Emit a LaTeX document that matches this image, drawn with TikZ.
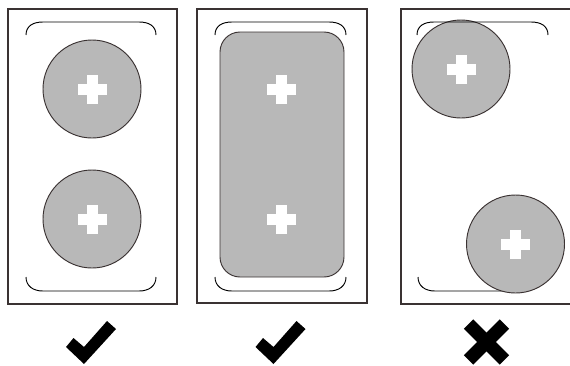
\documentclass[tikz,border=0pt]{standalone}
\usetikzlibrary{calc}
\definecolor{padgray}{RGB}{184,184,184}
\definecolor{edgegray}{RGB}{58,50,50}
\tikzset{
    frame/.style={draw=edgegray, line width=0.8pt},
    pad/.style={draw=edgegray, fill=padgray, line width=0.7pt},
    lip/.style={draw=black, line width=0.7pt},
    marksign/.style={fill=black},
}
% white cross in the middle of a pad
\newcommand{\plusmark}[2]{%
    \fill[white] (#1-14.5,#2-5.5) rectangle (#1+14.5,#2+5.5);
    \fill[white] (#1-5.5,#2-14.5) rectangle (#1+5.5,#2+14.5);
}
% upper and lower rims of a tray
\newcommand{\toplip}[2]{%
    \draw[lip] (#1,35) .. controls (#1,26) and (#1+7,22) .. (#1+17,22) -- (#2-17,22) .. controls (#2-7,22) and (#2,26) .. (#2,35);
}
\newcommand{\botlip}[2]{%
    \draw[lip] (#1,277) .. controls (#1,286) and (#1+7,291) .. (#1+17,291) -- (#2-17,291) .. controls (#2-7,291) and (#2,286) .. (#2,277);
}

\begin{document}
\begin{tikzpicture}[x=0.75pt,y=0.75pt,yscale=-1,xscale=1]
\useasboundingbox (0,0) rectangle (570,365);
%Left tray
\draw[frame] (8,9) rectangle (177,304);
\toplip{26}{156}
\botlip{26}{156}
\draw[pad] (92,89) circle (49);
\plusmark{92}{89.5}
\draw[pad] (92,219) circle (49);
\plusmark{92}{219}
%Middle tray
\draw[frame] (197,9) rectangle (367,303);
\toplip{215}{346}
\botlip{215}{346}
\draw[pad, rounded corners=15pt] (220,32) rectangle (344,277);
\plusmark{281}{89}
\plusmark{281}{219}
%Right tray
\draw[frame] (572,9) -- (401,9) -- (401,304) -- (572,304);
\draw[lip] (418,277) .. controls (418,286) and (425,291) .. (435,291) -- (510,291);
\draw[pad] (461,69) circle (49);
\plusmark{461}{69}
\toplip{417}{548}
\draw[pad] (515.5,244) circle (49);
\plusmark{515.5}{244}
%Check
\fill[marksign] (66,347) -- (73.5,338) -- (84,347) -- (107,321) -- (116,329) -- (84,364) -- cycle;
%Check
\fill[marksign] (255.5,347) -- (263,338) -- (273.5,347) -- (296.5,321) -- (305.5,329) -- (273.5,364) -- cycle;
%Cross
\draw[black, line width=10pt] (468.6,324.1) -- (504.4,359.9);
\draw[black, line width=10pt] (504.4,324.1) -- (468.6,359.9);
\end{tikzpicture}
\end{document}
